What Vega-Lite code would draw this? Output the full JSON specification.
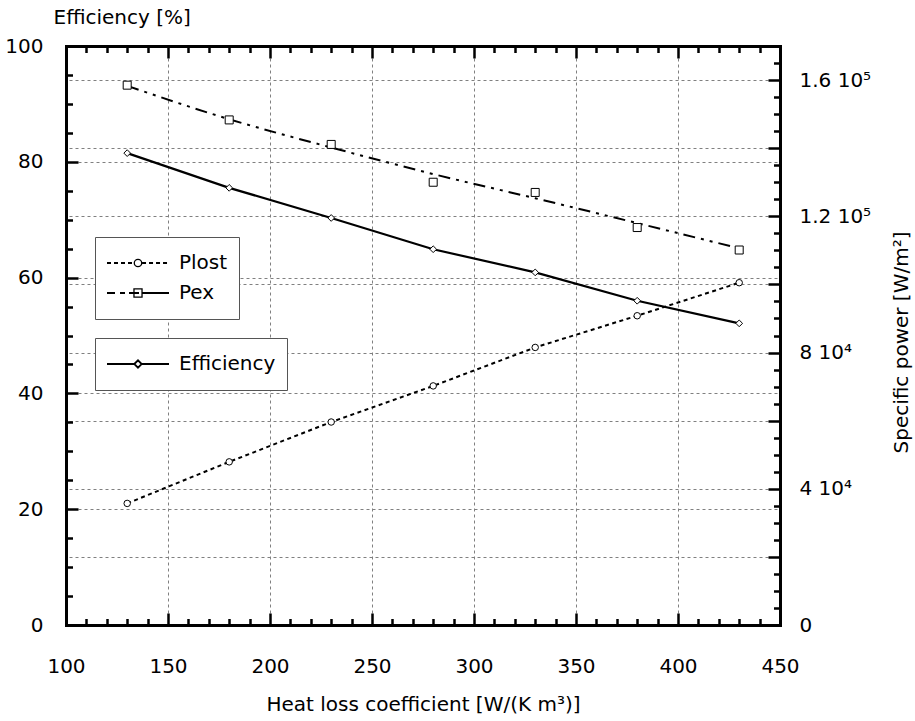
{
  "$schema": "https://vega.github.io/schema/vega-lite/v6.json",
  "width": 714,
  "height": 579,
  "autosize": {"type": "none"},
  "padding": {"left": 66, "top": 46, "right": 135, "bottom": 96},
  "background": "white",
  "config": {"view": {"stroke": null}, "font": "DejaVu Sans"},
  "datasets": {
    "eff": [
      {"x": 130, "eff": 81.5, "series": "Efficiency"},
      {"x": 180, "eff": 75.5, "series": "Efficiency"},
      {"x": 230, "eff": 70.3, "series": "Efficiency"},
      {"x": 280, "eff": 64.9, "series": "Efficiency"},
      {"x": 330, "eff": 60.9, "series": "Efficiency"},
      {"x": 380, "eff": 56.0, "series": "Efficiency"},
      {"x": 430, "eff": 52.1, "series": "Efficiency"}
    ],
    "power": [
      {"x": 130, "series": "Plost", "p": 35700},
      {"x": 180, "series": "Plost", "p": 47900},
      {"x": 230, "series": "Plost", "p": 59600},
      {"x": 280, "series": "Plost", "p": 70200},
      {"x": 330, "series": "Plost", "p": 81500},
      {"x": 380, "series": "Plost", "p": 90800},
      {"x": 430, "series": "Plost", "p": 100500},
      {"x": 130, "series": "Pex", "p": 158500},
      {"x": 180, "series": "Pex", "p": 148300},
      {"x": 230, "series": "Pex", "p": 141100},
      {"x": 280, "series": "Pex", "p": 130000},
      {"x": 330, "series": "Pex", "p": 127000},
      {"x": 380, "series": "Pex", "p": 116700},
      {"x": 430, "series": "Pex", "p": 110100}
    ],
    "pexfit": [
      {"x": 130, "p": 158300},
      {"x": 180, "p": 148500},
      {"x": 230, "p": 140200},
      {"x": 280, "p": 132400},
      {"x": 330, "p": 125300},
      {"x": 380, "p": 118000},
      {"x": 430, "p": 110600}
    ]
  },
  "layer": [
    {
      "data": {"name": "eff"},
      "layer": [
        {
          "mark": {"type": "line", "color": "black", "strokeWidth": 2.2},
          "encoding": {
            "x": {"field": "x", "type": "quantitative", "scale": {"domain": [100, 450], "nice": false, "zero": false},
              "axis": {"orient": "bottom", "values": [100, 150, 200, 250, 300, 350, 400, 450], "grid": true, "gridColor": "#808080", "gridDash": [3, 3], "gridWidth": 1, "domain": false, "ticks": false, "labels": true, "labelFontSize": 20, "labelFont": "DejaVu Sans", "labelColor": "black", "labelPadding": 31, "labelFlush": false, "labelOverlap": false, "format": "d", "title": "Heat loss coefficient [W/(K m³)]", "titleFontSize": 20, "titleFont": "DejaVu Sans", "titleFontWeight": "normal", "titleColor": "black", "titleY": 85, "titleBaseline": "alphabetic", "zindex": 0}},
            "y": {"field": "eff", "type": "quantitative", "scale": {"domain": [0, 100], "nice": false, "zero": false},
              "axis": {"orient": "left", "values": [0, 20, 40, 60, 80, 100], "grid": true, "gridColor": "#808080", "gridDash": [3, 3], "gridWidth": 1, "domain": false, "ticks": false, "labels": true, "labelFontSize": 20, "labelFont": "DejaVu Sans", "labelColor": "black", "labelPadding": 23, "labelFlush": false, "labelOverlap": false, "format": "d", "title": "Efficiency [%]", "titleFontSize": 20, "titleFont": "DejaVu Sans", "titleFontWeight": "normal", "titleColor": "black", "titleAngle": 0, "titleAlign": "left", "titleBaseline": "alphabetic", "titleX": -13, "titleY": -23, "zindex": 0}}
          }
        },
        {
          "mark": {"type": "point", "shape": "diamond", "size": 45, "filled": true, "fill": "white", "stroke": "black", "strokeWidth": 1, "opacity": 1},
          "encoding": {
            "x": {"field": "x", "type": "quantitative", "scale": {"domain": [100, 450], "nice": false, "zero": false},
              "axis": {"orient": "bottom", "values": [100, 150, 200, 250, 300, 350, 400, 450], "labels": false, "ticks": true, "tickSize": -12, "tickWidth": 2.5, "tickColor": "black", "domain": true, "domainWidth": 3, "domainColor": "black", "domainCap": "square", "grid": false, "title": null, "zindex": 1}},
            "y": {"field": "eff", "type": "quantitative", "scale": {"domain": [0, 100], "nice": false, "zero": false},
              "axis": {"orient": "left", "values": [0, 20, 40, 60, 80, 100], "labels": false, "ticks": true, "tickSize": -12, "tickWidth": 2.5, "tickColor": "black", "domain": true, "domainWidth": 3, "domainColor": "black", "domainCap": "square", "grid": false, "title": null, "zindex": 1}}
          }
        },
        {
          "mark": {"type": "point", "filled": false, "color": "black"},
          "encoding": {
            "x": {"field": "x", "type": "quantitative", "scale": {"domain": [100, 450], "nice": false, "zero": false},
              "axis": {"orient": "bottom", "values": [110, 120, 130, 140, 160, 170, 180, 190, 210, 220, 230, 240, 260, 270, 280, 290, 310, 320, 330, 340, 360, 370, 380, 390, 410, 420, 430, 440], "labels": false, "ticks": true, "tickSize": -6.5, "tickWidth": 2.5, "tickColor": "black", "domain": false, "grid": false, "title": null, "zindex": 1}},
            "y": {"field": "eff", "type": "quantitative", "scale": {"domain": [0, 100], "nice": false, "zero": false},
              "axis": {"orient": "left", "values": [5, 10, 15, 25, 30, 35, 45, 50, 55, 65, 70, 75, 85, 90, 95], "labels": false, "ticks": true, "tickSize": -6.5, "tickWidth": 2.5, "tickColor": "black", "domain": false, "grid": false, "title": null, "zindex": 1}},
            "opacity": {"value": 0},
            "shape": {"field": "series", "type": "nominal",
              "scale": {"domain": ["Efficiency"], "range": ["M-1,0H-0.12M0.12,0H1M-0.12,0L0,-0.12L0.12,0L0,0.12Z"]},
              "legend": {"orient": "none", "legendX": 29, "legendY": 292, "direction": "vertical", "title": null, "symbolSize": 3844, "clipHeight": 30, "rowPadding": 0, "padding": 11, "labelOffset": 9, "labelFontSize": 20, "labelFont": "DejaVu Sans", "labelColor": "black", "strokeColor": "#555555", "fillColor": "white", "symbolStrokeWidth": 1.8, "symbolStrokeColor": "black", "symbolFillColor": "white", "symbolOpacity": 1}}
          }
        }
      ],
      "resolve": {"axis": {"x": "independent", "y": "independent"}}
    },
    {
      "data": {"name": "power"},
      "layer": [
        {
          "mark": {"type": "point", "filled": false, "color": "black"},
          "encoding": {
            "x": {"field": "x", "type": "quantitative", "scale": {"domain": [100, 450], "nice": false, "zero": false}, "axis": null},
            "y": {"field": "p", "type": "quantitative", "scale": {"domain": [0, 170000], "nice": false, "zero": false}, "axis": null},
            "opacity": {"value": 0},
            "shape": {"field": "series", "type": "nominal",
              "scale": {"domain": ["Plost", "Pex"], "range": ["M-0.12,0A0.12,0.12,0,1,1,0.12,0A0.12,0.12,0,1,1,-0.12,0", "M-0.13,-0.13H0.13V0.13H-0.13Z"]},
              "legend": {"orient": "none", "legendX": 29, "legendY": 191, "direction": "vertical", "title": null, "symbolSize": 3844, "clipHeight": 30, "rowPadding": 0, "padding": 11, "labelOffset": 9, "labelFontSize": 20, "labelFont": "DejaVu Sans", "labelColor": "transparent", "strokeColor": "#555555", "fillColor": "white", "symbolStrokeWidth": 1.3, "symbolStrokeColor": "black", "symbolFillColor": "white", "symbolOpacity": 1}}
          }
        },
        {
          "transform": [{"filter": "datum.series == 'Plost'"}],
          "mark": {"type": "point", "filled": false, "color": "black"},
          "encoding": {
            "x": {"field": "x", "type": "quantitative", "scale": {"domain": [100, 450], "nice": false, "zero": false}, "axis": null},
            "y": {"field": "p", "type": "quantitative", "scale": {"domain": [0, 170000], "nice": false, "zero": false}, "axis": null},
            "opacity": {"value": 0},
            "shape": {"field": "series", "type": "nominal",
              "scale": {"domain": ["Plost"], "range": ["M-1,0H-0.13M0.13,0H1"]},
              "legend": {"orient": "none", "legendX": 29, "legendY": 191, "direction": "vertical", "title": null, "symbolSize": 3844, "clipHeight": 30, "rowPadding": 0, "padding": 11, "labelOffset": 9, "labelFontSize": 20, "labelFont": "DejaVu Sans", "labelColor": "black", "symbolStrokeWidth": 1.8, "symbolStrokeColor": "black", "symbolOpacity": 1, "symbolDash": [4, 3]}}
          }
        },
        {
          "transform": [{"filter": "datum.series == 'Pex'"}],
          "mark": {"type": "point", "filled": false, "color": "black"},
          "encoding": {
            "x": {"field": "x", "type": "quantitative", "scale": {"domain": [100, 450], "nice": false, "zero": false}, "axis": null},
            "y": {"field": "p", "type": "quantitative", "scale": {"domain": [0, 170000], "nice": false, "zero": false}, "axis": null},
            "opacity": {"value": 0},
            "shape": {"field": "series", "type": "nominal",
              "scale": {"domain": ["Pex"], "range": ["M-1,0H1"]},
              "legend": {"orient": "none", "legendX": 29, "legendY": 221, "direction": "vertical", "title": null, "symbolSize": 3844, "clipHeight": 30, "rowPadding": 0, "padding": 11, "labelOffset": 9, "labelFontSize": 20, "labelFont": "DejaVu Sans", "labelColor": "black", "symbolStrokeWidth": 1.8, "symbolStrokeColor": "black", "symbolOpacity": 1, "symbolDash": [8, 5, 5, 4, 10, 3, 27]}}
          }
        },
        {
          "transform": [{"filter": "datum.series == 'Plost'"}],
          "mark": {"type": "line", "color": "black", "strokeWidth": 2, "strokeDash": [4, 3.5]},
          "encoding": {
            "x": {"field": "x", "type": "quantitative", "scale": {"domain": [100, 450], "nice": false, "zero": false},
              "axis": {"orient": "top", "values": [100, 150, 200, 250, 300, 350, 400, 450], "labels": false, "ticks": true, "tickSize": -12, "tickWidth": 2.5, "tickColor": "black", "domain": true, "domainWidth": 3, "domainColor": "black", "domainCap": "square", "grid": false, "title": null, "zindex": 1}},
            "y": {"field": "p", "type": "quantitative", "scale": {"domain": [0, 170000], "nice": false, "zero": false},
              "axis": {"orient": "right", "values": [0, 20000, 40000, 60000, 80000, 100000, 120000, 140000, 160000], "grid": true, "gridColor": "#808080", "gridDash": [3, 3], "gridWidth": 1, "domain": false, "ticks": false, "labels": true, "labelFontSize": 20, "labelFont": "DejaVu Sans", "labelColor": "black", "labelPadding": 19, "labelFlush": false, "labelOverlap": false, "labelExpr": "datum.value == 0 ? '0' : datum.value == 40000 ? '4 10⁴' : datum.value == 80000 ? '8 10⁴' : datum.value == 120000 ? '1.2 10⁵' : datum.value == 160000 ? '1.6 10⁵' : ''", "title": "Specific power [W/m²]", "titleFontSize": 20, "titleFont": "DejaVu Sans", "titleFontWeight": "normal", "titleColor": "black", "titleAngle": 270, "titleAlign": "center", "titleBaseline": "alphabetic", "titleX": 127, "titleY": 296, "zindex": 0}}
          }
        },
        {
          "transform": [{"filter": "datum.series == 'Plost'"}],
          "mark": {"type": "point", "shape": "circle", "size": 42, "filled": true, "fill": "white", "stroke": "black", "strokeWidth": 1, "opacity": 1},
          "encoding": {
            "x": {"field": "x", "type": "quantitative", "scale": {"domain": [100, 450], "nice": false, "zero": false},
              "axis": {"orient": "top", "values": [110, 120, 130, 140, 160, 170, 180, 190, 210, 220, 230, 240, 260, 270, 280, 290, 310, 320, 330, 340, 360, 370, 380, 390, 410, 420, 430, 440], "labels": false, "ticks": true, "tickSize": -6.5, "tickWidth": 2.5, "tickColor": "black", "domain": false, "grid": false, "title": null, "zindex": 1}},
            "y": {"field": "p", "type": "quantitative", "scale": {"domain": [0, 170000], "nice": false, "zero": false},
              "axis": {"orient": "right", "values": [0, 20000, 40000, 60000, 80000, 100000, 120000, 140000, 160000], "labels": false, "ticks": true, "tickSize": -12, "tickWidth": 2.5, "tickColor": "black", "domain": true, "domainWidth": 3, "domainColor": "black", "domainCap": "square", "grid": false, "title": null, "zindex": 1}}
          }
        },
        {
          "data": {"name": "pexfit"},
          "mark": {"type": "line", "color": "black", "strokeWidth": 2, "strokeDash": [12, 6, 3, 6, 3, 6], "interpolate": "monotone"},
          "encoding": {
            "x": {"field": "x", "type": "quantitative", "scale": {"domain": [100, 450], "nice": false, "zero": false}, "axis": null},
            "y": {"field": "p", "type": "quantitative", "scale": {"domain": [0, 170000], "nice": false, "zero": false},
              "axis": {"orient": "right", "values": [5000, 10000, 15000, 25000, 30000, 35000, 45000, 50000, 55000, 65000, 70000, 75000, 85000, 90000, 95000, 105000, 110000, 115000, 125000, 130000, 135000, 145000, 150000, 155000, 165000], "labels": false, "ticks": true, "tickSize": -6.5, "tickWidth": 2.5, "tickColor": "black", "domain": false, "grid": false, "title": null, "zindex": 1}}
          }
        },
        {
          "transform": [{"filter": "datum.series == 'Pex'"}],
          "mark": {"type": "point", "shape": "square", "size": 64, "filled": true, "fill": "white", "stroke": "black", "strokeWidth": 1, "opacity": 1},
          "encoding": {
            "x": {"field": "x", "type": "quantitative", "scale": {"domain": [100, 450], "nice": false, "zero": false}, "axis": null},
            "y": {"field": "p", "type": "quantitative", "scale": {"domain": [0, 170000], "nice": false, "zero": false}, "axis": null}
          }
        }
      ],
      "resolve": {"scale": {"shape": "independent"}, "legend": {"shape": "independent"}, "axis": {"x": "independent", "y": "independent"}}
    }
  ],
  "resolve": {
    "scale": {"y": "independent", "shape": "independent"},
    "axis": {"x": "independent", "y": "independent"},
    "legend": {"shape": "independent"}
  }
}
